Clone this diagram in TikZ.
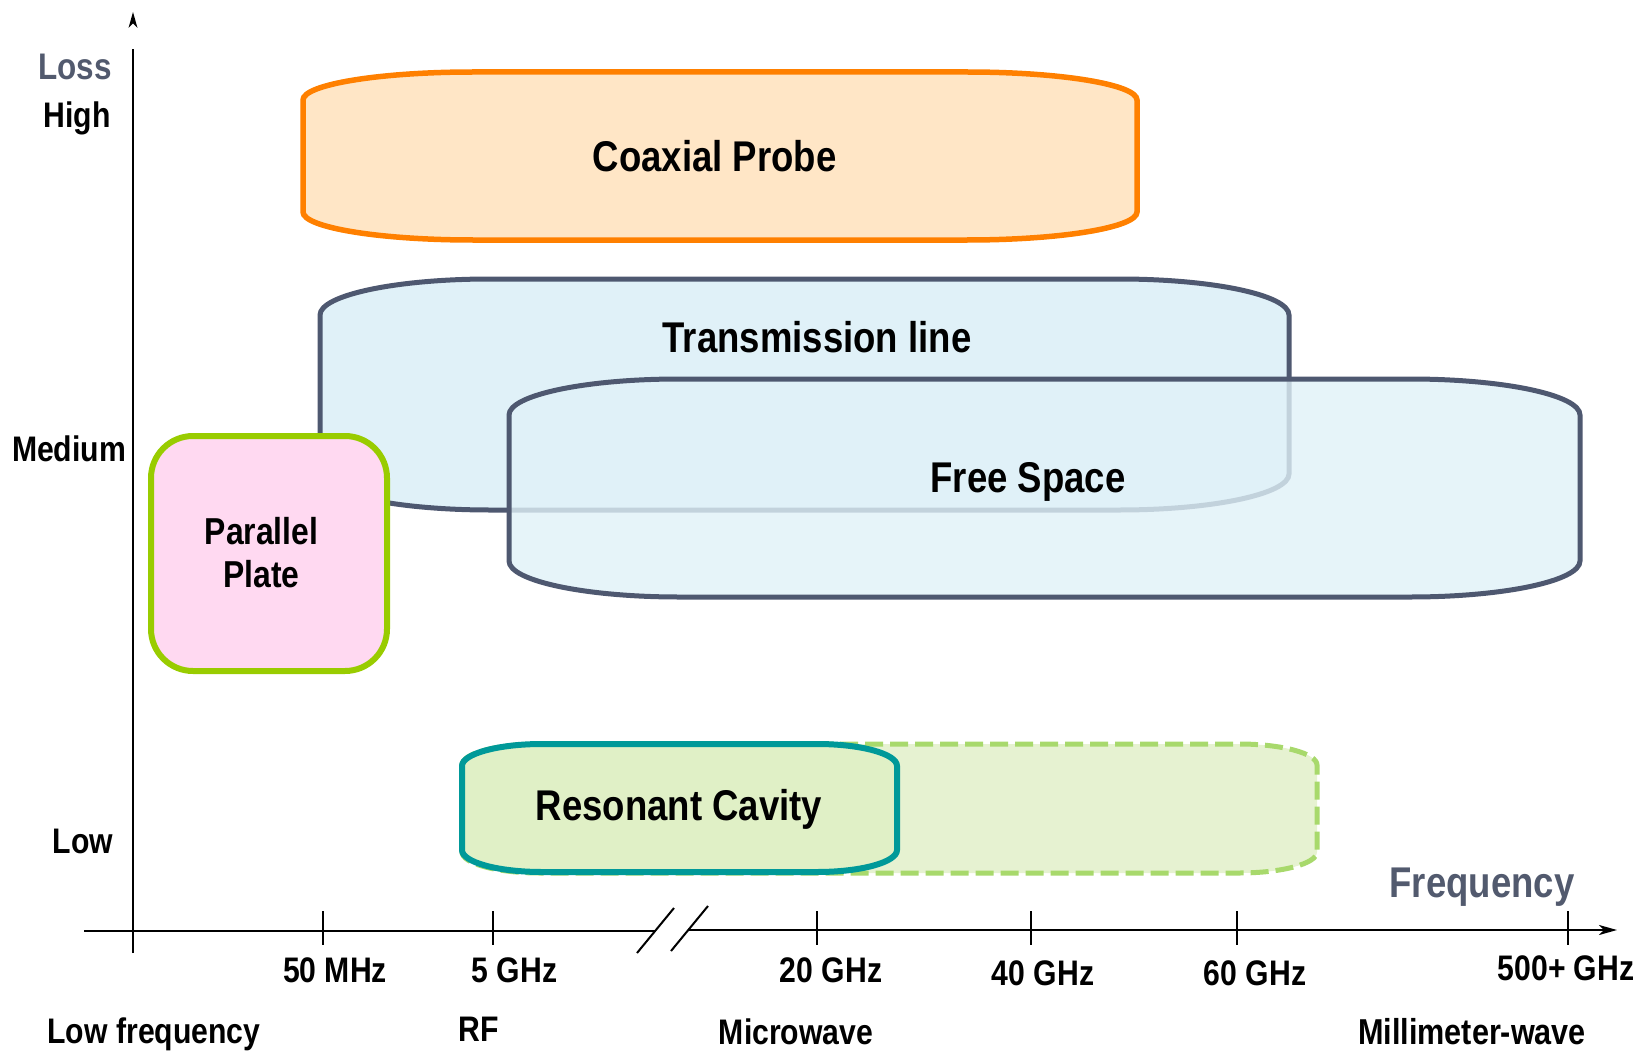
\documentclass[tikz,border=0pt]{standalone}
\usepackage{fontspec}
\setmainfont{Liberation Sans}[FakeStretch=0.85]
\usetikzlibrary{arrows.meta}
\definecolor{orB}{HTML}{FF8000}
\definecolor{orF}{HTML}{FFE6C6}
\definecolor{slB}{HTML}{4E5870}
\definecolor{blF}{HTML}{E0F1F8}
\definecolor{piF}{HTML}{FFD9F1}
\definecolor{liB}{HTML}{99CC00}
\definecolor{teB}{HTML}{009999}
\definecolor{teF}{HTML}{E0F0C6}
\definecolor{daB}{HTML}{A8D96C}
\definecolor{daF}{HTML}{E6F2D1}
\definecolor{slT}{HTML}{525A6E}
% elliptical-corner box: style, L, T, R, B, rx, ry (pixel coords, y down)
\newcommand\rbox[7]{%
  \path[#1] ({#2+#6},{-#3}) -- ({#4-#6},{-#3})
    arc[start angle=90,end angle=0,x radius=#6pt,y radius=#7pt]
    -- ({#4},{-#5+#7})
    arc[start angle=0,end angle=-90,x radius=#6pt,y radius=#7pt]
    -- ({#2+#6},{-#5})
    arc[start angle=270,end angle=180,x radius=#6pt,y radius=#7pt]
    -- ({#2},{-#3-#7})
    arc[start angle=180,end angle=90,x radius=#6pt,y radius=#7pt]
    -- cycle;}
\tikzset{
  lbl/.style={font=\bfseries\fontsize{35.5}{36}\selectfont, anchor=base, inner sep=0pt},
  big/.style={font=\bfseries\fontsize{43}{44}\selectfont, anchor=base, inner sep=0pt},
  ax/.style={line width=2pt, draw=black},
  tick/.style={line width=1.8pt, draw=black},
  orbox/.style={fill=orF, draw=orB, line width=5.5pt},
  blbox/.style={fill=blF, draw=slB, line width=5pt},
  fsbox/.style={fill=blF, fill opacity=0.8, draw=slB, draw opacity=1, line width=5pt},
  pibox/.style={fill=piF, draw=liB, line width=6pt},
  tebox/.style={fill=teF, draw=teB, line width=6pt},
  dabox/.style={fill=daF, draw=daB, line width=5pt, dash pattern=on 18pt off 7pt},
}
\begin{document}
\begin{tikzpicture}[x=1pt,y=1pt]
\useasboundingbox (0,0) rectangle (1640,-1051);
% boxes
\rbox{orbox}{303}{72}{1137}{240}{170}{28}
\rbox{blbox}{320}{279}{1289}{510}{170}{36}
\rbox{fsbox}{509}{379}{1580}{597}{170}{36}
\rbox{pibox}{151}{436}{387}{671}{42}{42}
\rbox{dabox}{462}{744}{1317}{873}{78}{21}
\rbox{tebox}{462}{744}{897}{872}{80}{22}
% box labels
\node[big] (coax) at (714.5,-172) {Coaxial Probe};
\node[big] (tl) at (817,-352) {Transmission line};
\node[big] (fs) at (1028,-492) {Free Space};
\node[font=\bfseries\fontsize{37.5}{38}\selectfont, anchor=base, inner sep=0pt] (pp1) at (261.5,-544) {Parallel};
\node[font=\bfseries\fontsize{37.5}{38}\selectfont, anchor=base, inner sep=0pt] (pp2) at (261.5,-587) {Plate};
\node[big] (rc) at (679,-820) {Resonant Cavity};
% y axis
\coordinate (yb) at (133,-953);
\coordinate (yt) at (133,-49);
\draw[ax] (yb) -- (yt);
\fill[black] (133,-12) -- (137.5,-28) -- (133,-23.5) -- (128.5,-28) -- cycle;
% x axis with break
\coordinate (xl) at (84,-931);
\coordinate (xb1) at (655,-931);
\coordinate (xb2) at (688,-930);
\coordinate (xr) at (1617,-930);
\draw[ax] (xl) -- (xb1);
\draw[ax, -{Stealth[length=18pt,width=10pt,inset=5pt]}] (xb2) -- (xr);
\coordinate (s1a) at (637,-953); \coordinate (s1b) at (674,-908);
\coordinate (s2a) at (671,-951); \coordinate (s2b) at (708,-906);
\draw[ax] (s1a) -- (s1b);
\draw[ax] (s2a) -- (s2b);
% ticks
\foreach \tx/\nm in {323/t1,493/t2,817/t3,1031/t4,1237/t5,1568/t6}{
  \coordinate (\nm a) at (\tx,-911);
  \coordinate (\nm b) at (\tx,-945);
  \draw[tick] (\nm a) -- (\nm b);
}
% tick labels
\node[lbl] (l50) at (335,-982) {50 MHz};
\node[lbl] (l5) at (514.5,-982) {5 GHz};
\node[lbl] (l20) at (831,-982) {20 GHz};
\node[lbl] (l40) at (1043,-985) {40 GHz};
\node[lbl] (l60) at (1255,-985) {60 GHz};
\node[lbl] (l500) at (1566,-980) {500+ GHz};
% band labels
\node[lbl] (blf) at (154,-1043) {Low frequency};
\node[lbl] (brf) at (479,-1041) {RF};
\node[lbl] (bmw) at (796,-1044) {Microwave};
\node[font=\bfseries\fontsize{36}{37}\selectfont, anchor=base, inner sep=0pt] (bmm) at (1472,-1044) {Millimeter-wave};
% y labels
\node[font=\bfseries\fontsize{37}{38}\selectfont, anchor=base, inner sep=0pt, text=slT] (loss) at (75,-80) {Loss};
\node[lbl] (high) at (77,-128) {High};
\node[lbl] (med) at (69,-461) {Medium};
\node[lbl] (low) at (83,-853) {Low};
\node[font=\bfseries\fontsize{43}{44}\selectfont, anchor=base, inner sep=0pt, text=slT] (freq) at (1482,-897) {Frequency};
\end{tikzpicture}
\end{document}
